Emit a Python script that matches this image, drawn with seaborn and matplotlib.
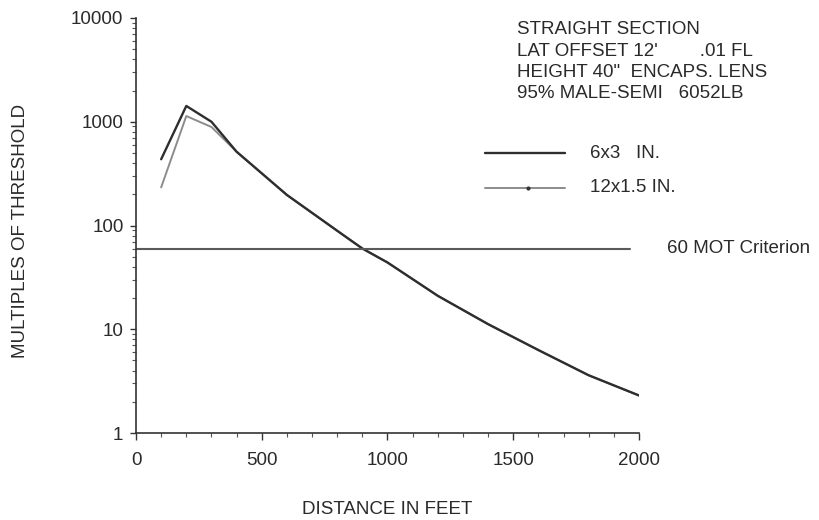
import matplotlib
matplotlib.use("Agg")
import matplotlib.pyplot as plt
import matplotlib.ticker as mticker
import numpy as np
import pandas as pd
import seaborn as sns

# Distance along the roadway (ft) and response in multiples of threshold
distance_6x3 = [100, 200, 300, 400, 600, 800, 900, 1000, 1200, 1400, 1600, 1800, 2000]
mot_6x3 = [435, 1420, 1000, 514, 197, 89, 60, 44, 21, 11.2, 6.3, 3.6, 2.3]

distance_12x1_5 = [100, 200, 300, 400, 600, 800, 900, 1000, 1200, 1400, 1600, 1800, 2000]
mot_12x1_5 = [233, 1135, 890, 514, 197, 89, 60, 44, 21, 11.2, 6.3, 3.6, 2.3]

criterion_value = 60
criterion_x = [0, 1965]

x_ticks = [0, 500, 1000, 1500, 2000]
y_ticks = [1, 10, 100, 1000, 10000]

header_lines = [
    "STRAIGHT SECTION",
    "LAT OFFSET 12'        .01 FL",
    "HEIGHT 40\"  ENCAPS. LENS",
    "95% MALE-SEMI   6052LB",
]

sns.set_theme(style="ticks")
plt.rcParams["font.family"] = ["Liberation Sans", "DejaVu Sans"]

FS = 13.5
TXT = "#2a2a2a"

df = pd.concat([
    pd.DataFrame({"distance": distance_6x3, "mot": mot_6x3, "target": "6x3"}),
    pd.DataFrame({"distance": distance_12x1_5, "mot": mot_12x1_5, "target": "12x1.5"}),
])

W, H = 820, 520
fig = plt.figure(figsize=(W / 100, H / 100), dpi=100)
# axes box: x from 136 px to 639 px, y from 433 px (bottom) to 18 px (top)
ax = fig.add_axes([136 / W, 1 - 433 / H, 503 / W, 415 / H])

palette = {"6x3": "#2e2e2e", "12x1.5": "#8c8c8c"}
sns.lineplot(data=df[df.target == "12x1.5"], x="distance", y="mot", color=palette["12x1.5"],
             lw=1.4, ax=ax, legend=False)
sns.lineplot(data=df[df.target == "6x3"], x="distance", y="mot", color=palette["6x3"],
             lw=1.7, ax=ax, legend=False)

crit = pd.DataFrame({"distance": criterion_x, "mot": [criterion_value] * 2})
sns.lineplot(data=crit, x="distance", y="mot", color="#5a5a5a", lw=1.5, ax=ax, legend=False)

ax.set_yscale("log")
ax.set_xlim(0, 2000)
ax.set_ylim(1, 10000)
ax.set_xticks(x_ticks)
ax.xaxis.set_minor_locator(mticker.MultipleLocator(100))
ax.set_yticks(y_ticks)
ax.yaxis.set_major_formatter(mticker.FuncFormatter(lambda v, p: f"{int(round(v))}"))
ax.yaxis.set_minor_locator(mticker.LogLocator(base=10, subs=np.arange(2, 10)))
ax.yaxis.set_minor_formatter(mticker.NullFormatter())

sns.despine(ax=ax)
for side in ("left", "bottom"):
    ax.spines[side].set_color("#333333")
    ax.spines[side].set_linewidth(1.2)
ax.tick_params(axis="both", which="major", width=1.0, color="#333333",
               labelsize=FS, labelcolor=TXT)
ax.tick_params(axis="x", which="major", length=5, pad=9)
ax.tick_params(axis="y", which="major", length=4, pad=5)
ax.tick_params(axis="both", which="minor", length=3, width=0.8, color="#555555")

ax.set_xlabel("DISTANCE IN FEET", fontsize=FS, color=TXT)
ax.xaxis.label.set_va("center")
ax.xaxis.set_label_coords(0.5, -(510 - 433) / 415)
ax.set_ylabel("MULTIPLES OF THRESHOLD", fontsize=FS, color=TXT)
ax.yaxis.label.set_va("center")
ax.yaxis.set_label_coords(-(136 - 20) / 503, 1 - (231 - 18) / 415)

# header block
for i, line in enumerate(header_lines):
    fig.text(517 / W, 1 - (30 + i * 21.2) / H, line, fontsize=FS, color=TXT,
             va="center", ha="left")

# legend drawn as short line samples with labels
legend_items = [("6x3   IN.", palette["6x3"], 1.7, None),
                ("12x1.5 IN.", palette["12x1.5"], 1.4, ".")]
for i, (label, col, lw, mk) in enumerate(legend_items):
    yy = 1 - (153 + i * 35) / H
    fig.add_artist(plt.Line2D([485 / W, 565 / W], [yy, yy], color=col, lw=lw,
                              transform=fig.transFigure))
    if mk:
        fig.add_artist(plt.Line2D([528 / W], [yy], color="#333333", marker=mk, ms=4,
                                  transform=fig.transFigure))
    fig.text(590 / W, yy, label, fontsize=FS, color=TXT, va="center", ha="left")

fig.text(667 / W, 1 - 248 / H, "60 MOT Criterion", fontsize=FS, color=TXT,
         va="center", ha="left")

fig.savefig("out.png", dpi=100)
